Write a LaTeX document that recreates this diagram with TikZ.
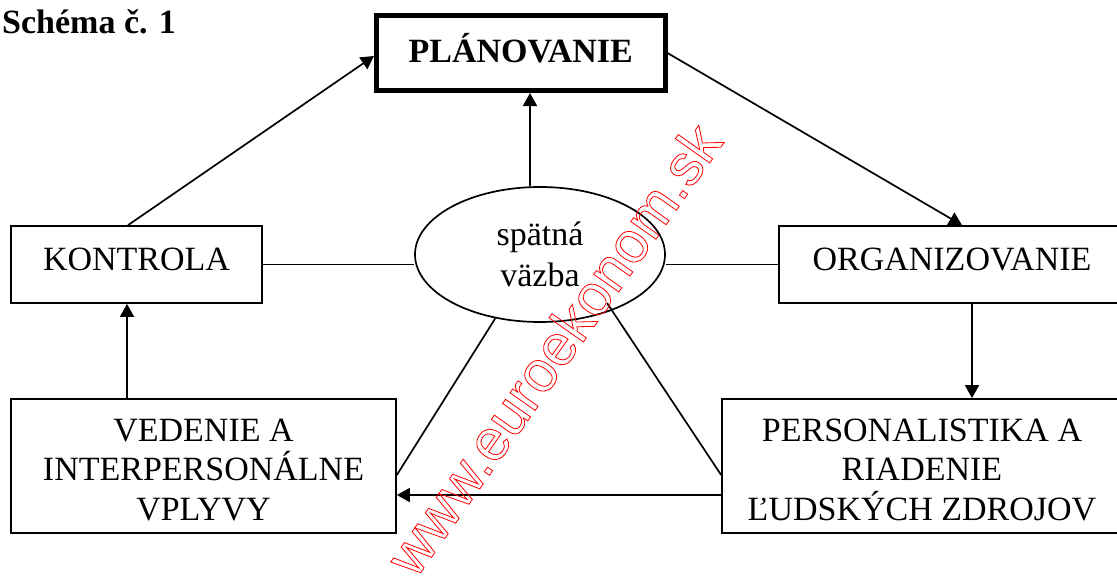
\documentclass[tikz,border=0pt]{standalone}
\usepackage{fontspec}
\setmainfont{Liberation Serif}
\newfontfamily\wmfont{Liberation Sans}
\usetikzlibrary{arrows.meta,shapes.geometric}

\begin{document}
\begin{tikzpicture}[x=1pt, y=-1pt,
        bx/.style={draw, line width=1.7pt, inner sep=0pt, align=center,
          font=\fontsize{34}{39.5}\selectfont},
        ed/.style={line width=1.7pt},
        ar/.style={ed, -{Triangle[length=13pt, width=14pt]}}
      ]
      \useasboundingbox (0,0) rectangle (1117,576);
      % title
      \node[anchor=base west, inner sep=0pt, font=\fontsize{34}{39}\selectfont\bfseries]
        (title) at (2,33) {Schéma č. 1};
      % boxes
      \node[bx, line width=5pt, minimum width=288.5pt, text height=46.5pt, text depth=28.5pt,
        font=\fontsize{34}{39}\selectfont\bfseries] (plan) at (520.75,53) {PLÁNOVANIE};
      \node[bx, minimum width=251pt, text height=44pt, text depth=33pt]
        (kontr) at (136.5,264.5) {KONTROLA};
      \node[bx, minimum width=346pt, text height=44pt, text depth=33pt]
        (org) at (952,264.5) {ORGANIZOVANIE};
      \node[bx, minimum width=385pt, text height=121pt, text depth=13pt]
        (ved) at (203.5,466) {VEDENIE A\\INTERPERSONÁLNE\\VPLYVY};
      \node[bx, minimum width=400pt, text height=121pt, text depth=13pt]
        (pers) at (922,466) {PERSONALISTIKA A\\RIADENIE\\ĽUDSKÝCH ZDROJOV};
      \node[draw, ellipse, line width=1.7pt, inner sep=0pt, minimum width=250pt,
        minimum height=135pt, align=center, font=\fontsize{34}{41}\selectfont]
        (fb) at (540,254.5) {spätná\\väzba};
      % arrows
      \draw[ar] ([xshift=-8.5pt]kontr.north) -- ([yshift=-3pt]plan.west);
      \draw[ar] ([xshift=-10pt]fb.north) -- ([xshift=-10pt]fb.north |- plan.south);
      \draw[ar] (plan.east) -- ([xshift=10pt]org.north);
      \draw[ar] ([xshift=20pt]org.south) -- ([xshift=20pt]org.south |- pers.north);
      \draw[ar] ([yshift=-29pt]pers.west) -- ([yshift=-29pt]pers.west -| ved.east);
      \draw[ar] ([xshift=-76.5pt]ved.north) -- ([xshift=-76.5pt]ved.north |- kontr.south);
      % lines to the feedback
      \draw[ed] (kontr.east) -- (kontr.east -| fb.west);
      \draw[ed] (org.west) -- (org.west -| fb.east);
      \draw[ed] (fb.235) -- ([yshift=-9pt]ved.east);
      \draw[ed] ([shift={(67,48.5)}]fb.center) -- ([yshift=-9pt]pers.west);
      % watermark
      \node[anchor=base, rotate=54.8, inner sep=0pt, text=red,
        font=\fontsize{58}{60}\selectfont\wmfont]
        (wm) at (570,361) {\special{pdf:literal direct 1 Tr 0.8 w}www.euroekonom.sk\special{pdf:literal direct 0 Tr}};
    \end{tikzpicture}
\end{document}
